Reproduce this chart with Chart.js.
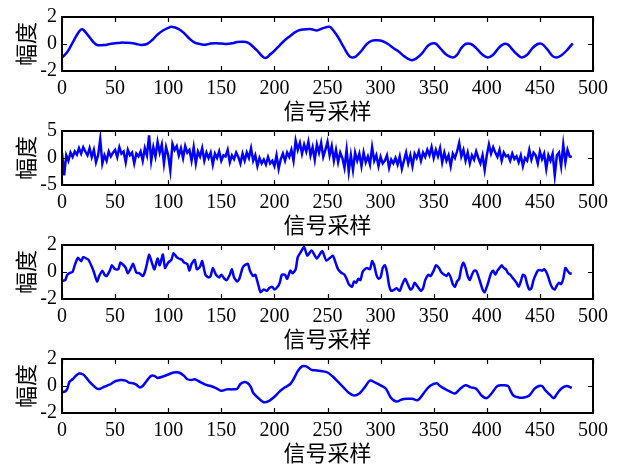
<!DOCTYPE html>
<html>
<head>
<meta charset="utf-8">
<script src="https://cdn.jsdelivr.net/npm/chart.js@4.4.0/dist/chart.umd.min.js"></script>
<style>
  body { margin: 0; background: #fff; }
  #wrap { position: relative; width: 621px; height: 472px; }
  canvas { position: absolute; left: 0; }
</style>
</head>
<body>
<div id="wrap">
  <canvas id="c1" width="621" height="125" style="top:0px"></canvas>
  <canvas id="c2" width="621" height="125" style="top:114px"></canvas>
  <canvas id="c3" width="621" height="125" style="top:228px"></canvas>
  <canvas id="c4" width="621" height="125" style="top:342px"></canvas>
</div>
<script>
// x axis labels
var xTitle = "信号采样";
var yTitle = "幅度";

// panel 1: smooth signal
var x1 = [0,5,10,15,18,20,25,30,33,40,45,50,55,60,65,70,75,80,85,90,95,100,103,110,115,120,125,130,135,140,145,150,155,160,165,170,175,180,185,190,193,195,200,205,210,215,220,225,230,235,240,245,252,255,260,265,270,273,277,282,287,292,297,302,307,312,317,322,329,334,339,345,351,356,362,368,372,376,380,385,390,396,401,406,411,416,420,424,429,433,438,443,448,452,457,462,466,470,475,481];
var amp1 = [-1.0,-0.6,0.1,0.8,1.07,1.05,0.6,0.1,-0.07,-0.08,0,0.05,0.1,0.1,0.08,0.0,-0.07,0.0,0.3,0.7,1.0,1.2,1.27,1.1,0.8,0.4,0.1,0.0,-0.05,0.03,0.05,0.03,0.0,0.05,0.15,0.17,0.1,-0.2,-0.6,-1.0,-1.0,-0.85,-0.5,-0.1,0.3,0.6,0.9,1.05,1.1,1.1,1.0,1.15,1.27,1.05,0.5,-0.2,-0.85,-1.0,-0.9,-0.5,0.0,0.25,0.27,0.2,0.0,-0.3,-0.55,-0.9,-1.2,-1.05,-0.7,-0.1,0.05,-0.3,-0.8,-1.0,-0.8,-0.3,0.0,0.0,-0.3,-0.8,-1.0,-0.8,-0.3,0.0,-0.05,-0.4,-0.8,-1.0,-0.8,-0.3,0.0,0.0,-0.4,-0.9,-1.0,-0.85,-0.5,0.05];

// panel 2: noisy signal, one value every 2 samples
var step2 = 2;
var amp2 = [
  1.0,-3.2,0.5,-0.5,1.0,0.2,1.2,0.6,1.8,0.8,
  2.0,1.2,0.5,1.8,0.2,1.5,-0.8,0.5,3.5,-1.0,
  0.5,-0.5,1.2,0.3,1.0,1.5,0.2,2.0,0.8,1.2,
  -0.8,1.5,0.5,1.0,-1.0,0.8,0.3,1.2,-0.5,1.8,
  0.5,4.2,-0.5,2.0,0.3,3.0,1.0,2.5,-1.0,2.0,
  0.5,-2.3,2.6,1.5,2.2,0.5,1.8,0.0,2.2,1.0,
  1.5,-0.5,2.0,-1.0,1.2,0.3,1.8,-0.5,1.0,0.0,
  1.0,-1.2,0.8,0.0,1.2,-0.5,0.5,0.3,1.5,-0.8,
  0.5,-0.2,1.0,0.2,-1.0,0.8,-0.5,1.0,0.0,1.8,
  -0.5,0.5,-1.5,0.0,-1.0,-0.3,-1.2,0.2,-1.0,-0.5,
  -1.5,0.5,-2.0,-0.2,0.8,-0.5,1.0,0.2,1.5,-0.5,
  3.2,1.5,2.8,0.8,2.5,1.2,3.0,0.5,2.0,-0.3,
  2.5,1.0,2.8,0.2,1.5,3.0,0.5,2.2,-0.5,1.5,
  -0.8,1.0,0.0,-1.8,1.5,-2.5,0.5,-2.2,1.0,-0.5,
  0.8,-1.5,1.0,-0.8,0.3,-1.2,2.0,-0.5,0.5,-1.5,
  0.2,-1.0,-0.5,0.5,-1.8,-0.3,-1.0,0.0,-1.2,0.3,
  -2.0,-0.5,1.0,-1.0,0.5,-1.5,0.8,0.0,1.2,-0.5,
  1.0,0.2,1.5,0.5,2.0,0.0,1.5,0.3,1.8,-0.8,
  1.0,-0.5,0.5,-1.5,0.8,0.0,1.2,2.8,0.3,1.5,
  -0.5,1.0,-1.0,0.5,-0.3,1.2,0.0,-1.0,0.5,-2.2,
  0.5,2.5,0.8,2.0,1.0,0.2,1.5,-0.5,1.0,0.3,
  0.5,-0.5,0.8,-0.2,0.3,-0.8,0.5,-1.5,0.0,-0.5,
  1.5,-0.3,1.0,0.5,-1.0,1.2,-0.2,0.8,-2.0,0.5,
  -0.5,0.8,-3.2,0.5,1.0,-1.5,2.5,-0.8,1.5,0.3,
  0.2
];

// panel 3
var x3 = [0,3,5,8,10,12,15,18,20,23,25,28,30,33,35,38,40,42,45,47,50,53,55,58,60,62,65,67,70,73,76,78,80,82,85,87,90,92,95,97,100,103,105,108,110,113,115,118,120,122,125,127,130,132,135,138,140,142,145,148,150,153,155,158,160,162,165,167,170,172,175,177,180,182,185,187,190,193,195,198,200,203,205,207,210,212,215,217,220,222,225,228,231,235,240,245,249,255,258,260,263,266,268,270,273,275,277,279,281,283,285,287,290,292,294,296,298,300,302,304,306,308,310,313,315,318,320,323,325,328,330,332,335,338,340,342,345,347,350,352,355,357,360,362,364,366,368,370,372,374,376,378,380,382,384,386,388,390,392,394,396,398,400,402,404,406,408,410,412,414,416,418,420,422,424,426,428,430,432,434,436,438,440,442,444,446,448,450,452,454,456,458,460,462,464,466,468,470,472,474,476,478,480];
var amp3 = [-0.65,-0.6,-0.2,-0.05,0.0,0.5,1.05,0.8,1.1,1.0,0.9,0.4,0.0,-0.7,-0.3,0.1,-0.2,-0.3,0.1,0.5,0.2,0.2,0.7,0.5,0.3,-0.1,0.3,0.6,-0.05,-0.1,-0.3,0.0,0.6,1.3,0.6,0.2,1.0,0.5,1.3,0.3,0.7,0.9,1.4,1.1,1.0,0.9,0.7,0.6,0.1,0.6,0.9,0.2,0.4,0.8,-0.2,-0.4,-0.3,0.3,-0.2,-0.4,-0.2,-0.5,-0.6,-0.2,0.2,-0.4,-0.7,-0.5,0.3,0.5,0.6,0.1,-0.3,-0.2,-1.0,-1.5,-1.3,-1.4,-1.2,-1.1,-1.3,-1.1,-0.8,-0.2,-0.2,-0.5,0.1,-0.1,0.2,1.1,1.5,1.85,1.2,1.6,1.0,1.55,0.85,1.2,0.6,0.2,-0.05,-0.2,-0.5,-0.9,-1.1,-0.7,-0.8,-0.5,-0.6,0.0,0.2,0.3,0.2,0.8,0.5,-0.2,-0.5,-0.4,0.3,0.5,0.0,-1.0,-1.4,-1.3,-1.2,-1.4,-1.0,-0.5,-0.8,-1.3,-1.2,-0.8,-1.1,-1.4,-1.2,-0.6,-0.2,-0.3,0.1,0.5,0.3,0.0,-0.2,-0.3,-0.1,-0.4,-0.9,-1.1,-0.7,-0.5,0.3,0.7,0.3,-0.3,-0.6,-0.2,0.1,0.1,-0.3,-0.8,-1.3,-1.5,-1.1,-0.6,-0.1,0.1,-0.2,0.1,0.3,0.5,0.3,0.2,-0.1,-0.2,-0.4,-0.6,-0.8,-1.1,-0.7,-0.2,-0.3,-0.9,-1.3,-1.2,-0.6,-0.2,0.1,0.15,0.1,0.2,0.0,-0.4,-0.9,-1.2,-1.3,-1.0,-0.8,-0.9,-0.5,0.3,0.1,-0.1,-0.1];

// panel 4
var x4 = [0,3,5,7,10,13,16,20,23,26,30,33,36,40,43,46,50,55,60,63,67,70,73,76,80,84,87,90,95,100,105,110,115,118,122,125,130,135,140,145,150,155,160,165,168,172,175,178,180,185,190,195,200,205,210,215,218,222,226,230,235,240,245,250,255,260,265,270,275,280,285,290,295,300,305,310,315,320,325,330,335,340,345,350,353,356,360,365,370,375,380,385,390,395,400,405,410,415,420,422,425,430,435,440,445,449,452,455,460,463,466,470,475,480];
var amp4 = [-0.45,-0.4,-0.2,0.3,0.5,0.75,0.93,0.85,0.6,0.3,0.0,-0.2,-0.2,-0.05,0.05,0.15,0.35,0.45,0.4,0.25,0.2,0.1,-0.1,0.0,0.4,0.75,0.75,0.6,0.7,0.85,1.0,1.0,0.75,0.5,0.45,0.5,0.3,0.1,0.0,-0.15,-0.35,-0.25,-0.25,-0.2,0.15,0.3,0.2,-0.1,-0.5,-0.9,-1.2,-1.1,-0.8,-0.4,-0.1,0.15,0.5,1.1,1.45,1.45,1.2,1.15,1.1,1.0,0.7,0.3,-0.1,-0.5,-0.7,-0.55,-0.1,0.4,0.25,0.05,-0.2,-0.9,-1.15,-1.0,-0.95,-0.95,-1.05,-0.6,-0.1,0.15,0.2,0.0,-0.2,-0.4,-0.55,-0.2,0.05,-0.1,-0.2,-0.7,-0.9,-0.5,0.0,0.05,0.0,-0.3,-0.7,-0.85,-0.85,-0.7,-0.2,0.0,0.0,-0.3,-0.7,-0.9,-0.6,-0.2,0.0,-0.15];

var xTicks = [0,50,100,150,200,250,300,350,400,450,500];

function pairs(xs, ys) {
  return ys.map(function(v, i) { return {x: xs[i], y: v}; });
}

// matlab style box with inward ticks
var frameTicks = {
  id: 'frameTicks',
  afterDraw: function(chart) {
    var ctx = chart.ctx, a = chart.chartArea;
    var sx = chart.scales.x, sy = chart.scales.y;
    ctx.save();
    ctx.strokeStyle = '#000';
    ctx.lineWidth = 1.2;
    ctx.beginPath();
    sx.ticks.forEach(function(t) {
      var px = Math.round(sx.getPixelForValue(t.value)) + 0.5;
      ctx.moveTo(px, a.bottom); ctx.lineTo(px, a.bottom - 5);
      ctx.moveTo(px, a.top); ctx.lineTo(px, a.top + 5);
    });
    sy.ticks.forEach(function(t) {
      var py = Math.round(sy.getPixelForValue(t.value)) + 0.5;
      ctx.moveTo(a.left, py); ctx.lineTo(a.left + 5, py);
      ctx.moveTo(a.right, py); ctx.lineTo(a.right - 5, py);
    });
    ctx.stroke();
    ctx.lineWidth = 2;
    ctx.strokeRect(a.left, a.top, a.right - a.left, a.bottom - a.top);
    ctx.restore();
  }
};

function makeChart(id, points, ymax, tension) {
  new Chart(document.getElementById(id), {
    type: 'line',
    data: {
      datasets: [{
        data: points,
        borderColor: '#0000ff',
        borderWidth: 2.5,
        pointRadius: 0,
        tension: tension,
        fill: false
      }]
    },
    options: {
      responsive: false,
      animation: false,
      devicePixelRatio: 1,
      layout: { padding: { top: 16, right: 28, left: 0, bottom: 0 } },
      plugins: { legend: { display: false }, tooltip: { enabled: false } },
      scales: {
        x: {
          type: 'linear',
          min: 0, max: 500,
          afterBuildTicks: function(s) { s.ticks = xTicks.map(function(v) { return {value: v}; }); },
          afterFit: function(s) { s.height = 54; },
          grid: { display: false, drawTicks: false },
          border: { display: false },
          ticks: { color: '#000', padding: 6, maxRotation: 0, autoSkip: false,
                   font: { family: 'Liberation Serif', size: 20 } },
          title: { display: true, text: xTitle, color: '#000', padding: { top: 0, bottom: 1 },
                   font: { family: 'Noto Sans CJK SC', size: 22 } }
        },
        y: {
          min: -ymax, max: ymax,
          afterBuildTicks: function(s) { s.ticks = [{value: -ymax}, {value: 0}, {value: ymax}]; },
          afterFit: function(s) { s.width = 62; },
          grid: { display: false, drawTicks: false },
          border: { display: false },
          ticks: { color: '#000', padding: 5, autoSkip: false,
                   font: { family: 'Liberation Serif', size: 20 } },
          title: { display: true, text: yTitle, color: '#000', padding: { top: 12, bottom: 0 },
                   font: { family: 'Noto Sans CJK SC', size: 22 } }
        }
      }
    },
    plugins: [frameTicks]
  });
}

makeChart('c1', pairs(x1, amp1), 2, 0.35);
makeChart('c2', amp2.map(function(v, i) { return {x: i * step2, y: v}; }), 5, 0);
makeChart('c3', pairs(x3, amp3), 2, 0.2);
makeChart('c4', pairs(x4, amp4), 2, 0.35);
</script>
</body>
</html>
